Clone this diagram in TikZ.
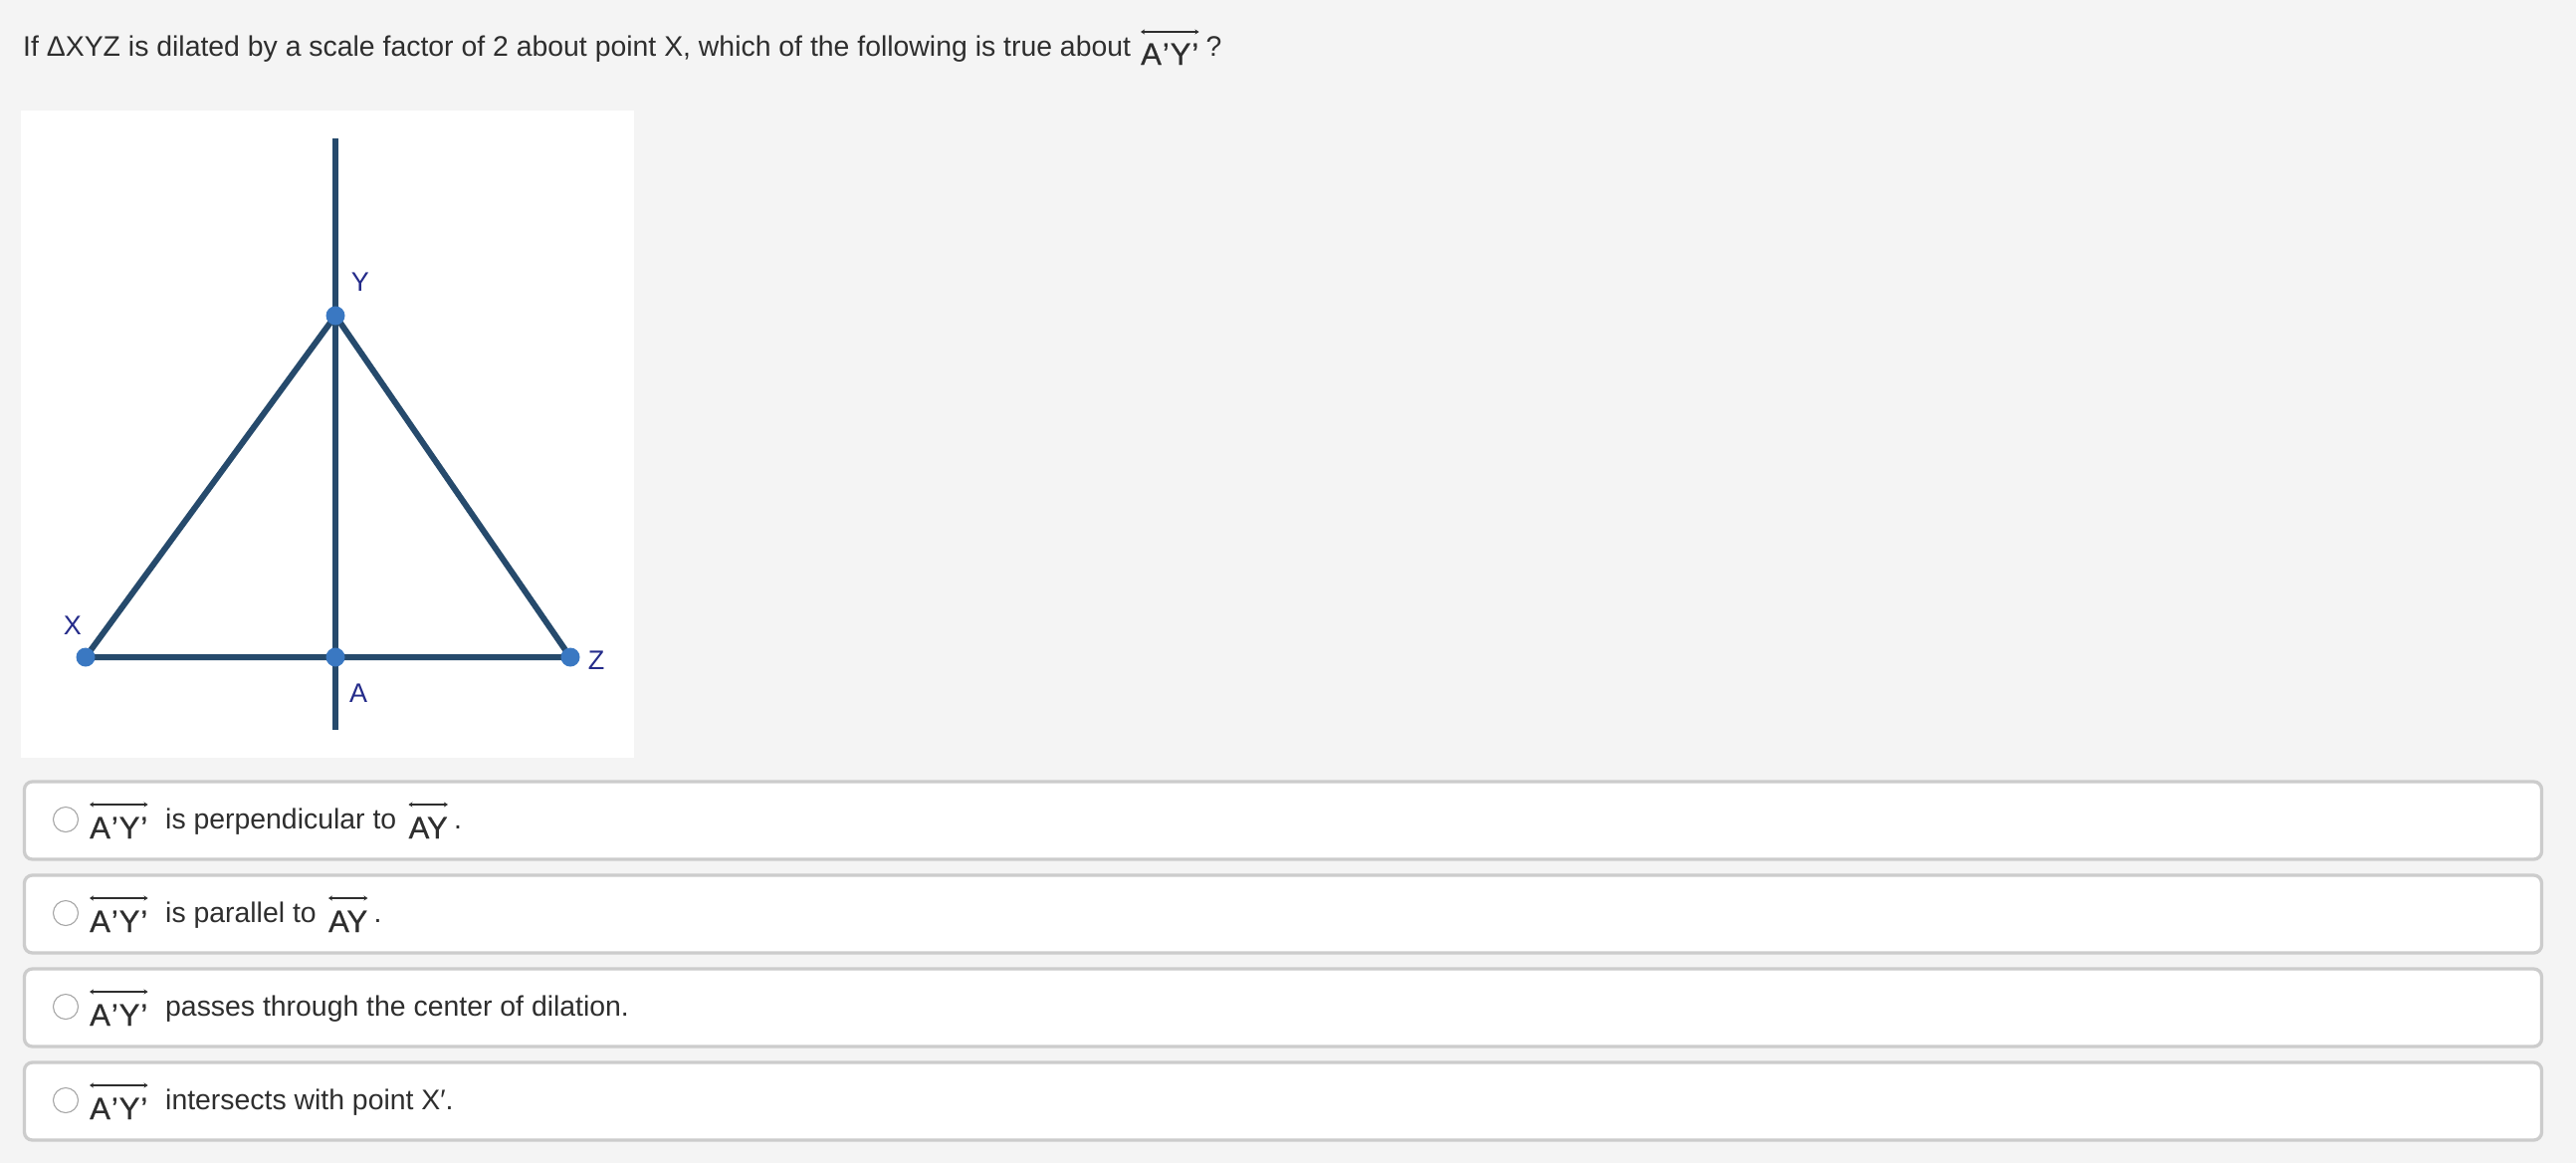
\documentclass[tikz,border=0pt]{standalone}
\usepackage{fontspec}
\setmainfont{Liberation Sans}
\usepackage{tikz}
\usetikzlibrary{positioning,arrows.meta}
\definecolor{pagebg}{HTML}{F4F4F4}
\definecolor{boxline}{HTML}{CCCCCC}
\definecolor{segblue}{HTML}{264A6C}
\definecolor{dotblue}{HTML}{3A78C2}
\definecolor{lblnavy}{HTML}{242B8A}
\definecolor{txtgray}{HTML}{2E2E2E}
\tikzset{
  qtext/.style={inner sep=0pt, anchor=base west, text=txtgray, font=\fontsize{28.4}{34}\selectfont},
  ovl/.style={inner sep=0pt, anchor=base west, text=txtgray, font=\fontsize{31}{37}\selectfont\addfontfeature{FakeBold=0.6}},
  arrline/.style={draw=txtgray, line width=1.8pt, {Stealth[length=4pt,width=5pt]}-{Stealth[length=4pt,width=5pt]}},
  seg/.style={draw=segblue, line width=6pt, line join=round},
  dot/.style={circle, fill=dotblue, inner sep=0pt, minimum size=19pt},
  ptlabel/.style={text=lblnavy, inner sep=0pt, font=\fontsize{27}{32}\selectfont},
  optbox/.style={draw=boxline, line width=3.3pt, fill=white, rounded corners=8pt, minimum width=2529pt, minimum height=78pt, inner sep=0pt},
  radio/.style={circle, draw=black!35, line width=1.1pt, fill=white, minimum size=25pt, inner sep=0pt}
}

\begin{document}
\begin{tikzpicture}[x=1pt, y=-1pt]
\fill[pagebg] (0,0) rectangle (2588,1168);
\node[qtext] (qline) at (23,56) {If ΔXYZ is dilated by a scale factor of 2 about point X, which of the following is true about};
\node[ovl] (qay) at (1146,65) {A\kern1pt’\kern1pt Y\kern1pt’};
\draw[arrline] ([yshift=33pt]qay.base west) -- ([yshift=33pt]qay.base east);
\node[qtext, right=7pt of qay.base east, anchor=base west, yshift=9pt] (qmark) {?};
\fill[white] (21,111) rectangle (637,761);
\coordinate (top) at (337,139);
\coordinate (bot) at (337,733);
\coordinate (X) at (86,660);
\coordinate (Y) at (337,317);
\coordinate (Z) at (573,660);
\coordinate (A) at (337,660);
\draw[seg] (top) -- (bot);
\draw[seg] (X) -- (Y) -- (Z) -- cycle;
\foreach \p in {X,Y,Z,A} {
 \node[dot] (d\p) at (\p) {};
}
\node[ptlabel] (lY) at (362,283) {Y};
\node[ptlabel] (lX) at (73,628) {X};
\node[ptlabel] (lZ) at (599,663) {Z};
\node[ptlabel] (lA) at (360,696) {A};
\foreach \i [evaluate=\i as \c using 824+94*(\i-1)] in {1,2,3,4} {
 \node[optbox] (box\i) at (1289,\c) {};
 \node[radio] (rad\i) at (66,\c-1) {};
 \node[ovl] (oay\i) at (90,\c+18) {A\kern1pt’\kern1pt Y\kern1pt’};
 \draw[arrline] ([yshift=34pt]oay\i.base west) -- ([yshift=34pt]oay\i.base east);
}
\node[qtext] (t1) at (166,832) {is perpendicular to};
\node[ovl, right=12pt of t1.base east, anchor=base west, yshift=-10pt] (ay1) {AY};
\draw[arrline] ([yshift=34pt]ay1.base west) -- ([yshift=34pt]ay1.base east);
\node[qtext, right=6pt of ay1.base east, anchor=base west, yshift=10pt] (p1) {.};
\node[qtext] (t2) at (166,926) {is parallel to};
\node[ovl, right=12pt of t2.base east, anchor=base west, yshift=-10pt] (ay2) {AY};
\draw[arrline] ([yshift=34pt]ay2.base west) -- ([yshift=34pt]ay2.base east);
\node[qtext, right=6pt of ay2.base east, anchor=base west, yshift=10pt] (p2) {.};
\node[qtext] (t3) at (166,1020) {passes through the center of dilation.};
\node[qtext] (t4) at (166,1114) {intersects with point X′.};
\end{tikzpicture}
\end{document}
